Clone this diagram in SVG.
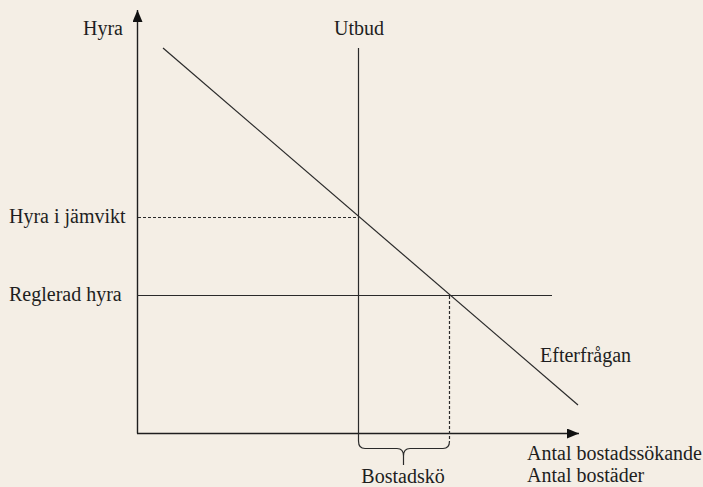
<svg xmlns="http://www.w3.org/2000/svg" width="703" height="487" viewBox="0 0 703 487">
  <style>
    .axis { stroke: #1e1e1e; stroke-width: 1.4; fill: none; }
    .ln { stroke: #2a2a2a; stroke-width: 1.2; fill: none; }
    .dash { stroke: #2a2a2a; stroke-width: 1.2; fill: none; stroke-dasharray: 3 2; }
  </style>
  <defs>
    <marker id="arrow" viewBox="0 0 12 10" refX="12" refY="5" markerWidth="12" markerHeight="10" markerUnits="userSpaceOnUse" orient="auto">
      <path d="M0,0 L12,5 L0,10 Z" fill="#111"/>
    </marker>
  </defs>
  <rect width="703" height="487" fill="#f4eee5"/>

  <g id="connectors">
    <line id="y-axis" class="axis" x1="137.5" y1="433.5" x2="137.5" y2="10" marker-end="url(#arrow)"/>
    <line id="x-axis" class="axis" x1="137" y1="433.5" x2="579" y2="433.5" marker-end="url(#arrow)"/>
    <line id="utbud-line" class="ln" x1="358.5" y1="48" x2="358.5" y2="441"/>
    <line id="efterfragan-line" class="ln" x1="163" y1="48" x2="578" y2="405"/>
    <line id="reglerad-line" class="ln" x1="137" y1="295.5" x2="552" y2="295.5"/>
    <line id="jamvikt-dash" class="dash" x1="138" y1="217.5" x2="358" y2="217.5"/>
    <line id="ko-dash" class="dash" x1="449.5" y1="296" x2="449.5" y2="441"/>
    <path id="brace" class="ln" d="M358.5,441 Q358.5,448.5 365,448.5 L397,448.5 Q403.5,448.5 403.5,456 L403.5,465 M449.5,441 Q449.5,448.5 443,448.5 L410,448.5 Q403.5,448.5 403.5,456"/>
  </g>

  <g font-family="Liberation Serif, serif" font-size="20" fill="#1e1e1e">
    <g id="label-hyra"><text x="83" y="35">Hyra</text></g>
    <g id="label-utbud"><text x="359" y="35" text-anchor="middle">Utbud</text></g>
    <g id="label-jamvikt"><text x="9" y="223">Hyra i jämvikt</text></g>
    <g id="label-reglerad"><text x="9" y="301">Reglerad hyra</text></g>
    <g id="label-efterfragan"><text x="540" y="362">Efterfrågan</text></g>
    <g id="label-xaxis">
      <text x="527" y="460">Antal bostadssökande</text>
      <text x="527" y="482">Antal bostäder</text>
    </g>
    <g id="label-bostadsko"><text x="403" y="483" text-anchor="middle">Bostadskö</text></g>
  </g>
</svg>
